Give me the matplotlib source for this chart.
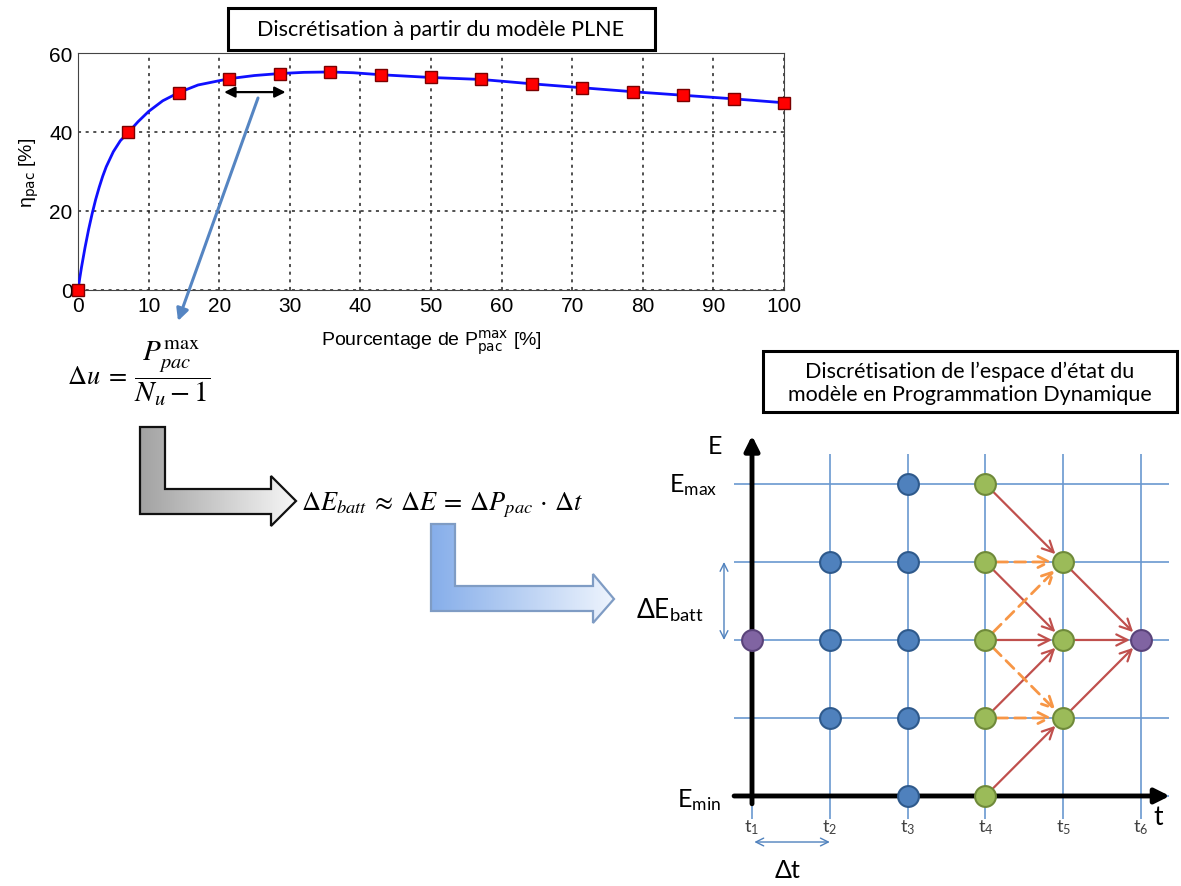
import numpy as np
import matplotlib
matplotlib.use('Agg')
import matplotlib.pyplot as plt
from matplotlib.patches import Polygon, Rectangle
from matplotlib.colors import LinearSegmentedColormap

plt.rcParams['font.family'] = ['Liberation Sans', 'DejaVu Sans']
plt.rcParams['mathtext.fontset'] = 'custom'
plt.rcParams['mathtext.rm'] = 'Lato'
plt.rcParams['mathtext.it'] = 'Lato:italic'
plt.rcParams['mathtext.bf'] = 'Lato:bold'

W, H = 1181, 887

# rendement de la pile : points de discretisation (carres rouges)
pct = [0, 7.14, 14.29, 21.43, 28.57, 35.71, 42.86, 50, 57.14, 64.29, 71.43, 78.57, 85.71, 92.86, 100]
eta = [0, 39.9, 50.0, 53.5, 54.8, 55.2, 54.5, 53.8, 53.3, 52.2, 51.2, 50.2, 49.3, 48.4, 47.4]
# courbe continue
pct_courbe = [0, 0.25, 0.5, 1, 1.5, 2, 2.5, 3, 3.5, 4, 5, 6, 7.14, 8.5, 10, 12, 14.29, 17, 21.43, 25,
              28.57, 32, 35.71, 39, 42.86, 50, 57.14, 64.29, 71.43, 78.57, 85.71, 92.86, 100]
eta_courbe = [0, 3.0, 5.8, 10.8, 15.3, 19.3, 22.9, 26.0, 28.8, 31.2, 35.0, 37.8, 39.9, 42.6, 45.2,
              47.9, 50.0, 51.9, 53.5, 54.3, 54.8, 55.1, 55.2, 55.0, 54.5, 53.8, 53.3, 52.2, 51.2,
              50.2, 49.3, 48.4, 47.4]
x_ticks = [0, 10, 20, 30, 40, 50, 60, 70, 80, 90, 100]
y_ticks = [0, 20, 40, 60]

# grille de la programmation dynamique
t_pas = [1, 2, 3, 4, 5, 6]
t_noms = ['t$_1$', 't$_2$', 't$_3$', 't$_4$', 't$_5$', 't$_6$']
niveaux_E = [0, 1, 2, 3, 4]
noeuds = {1: [2], 2: [1, 2, 3], 3: [0, 1, 2, 3, 4], 4: [0, 1, 2, 3, 4], 5: [1, 2, 3], 6: [2]}
type_noeud = {1: 'violet', 2: 'bleu', 3: 'bleu', 4: 'vert', 5: 'vert', 6: 'violet'}
fleches_rouges = [((4, 4), (5, 3)), ((4, 3), (5, 2)), ((4, 2), (5, 2)), ((4, 1), (5, 2)),
                  ((4, 0), (5, 1)), ((5, 3), (6, 2)), ((5, 2), (6, 2)), ((5, 1), (6, 2))]
fleches_orange = [((4, 3), (5, 3)), ((4, 2), (5, 3)), ((4, 2), (5, 1)), ((4, 1), (5, 1))]

couleurs = {'bleu': ('#4f81bd', '#2f5a8c'),
            'vert': ('#9bbb59', '#6f8a3a'),
            'violet': ('#8064a2', '#5a437a')}

fig = plt.figure(figsize=(W / 100, H / 100), dpi=100)

# ---- graphe du rendement ----
ax1 = fig.add_axes([78 / W, 1 - 291 / H, (784 - 78) / W, (291 - 54) / H])
ax1.plot(pct_courbe, eta_courbe, color='#1010ff', lw=2, zorder=3)
ax1.plot(pct, eta, 's', ms=9, mfc='#ff0000', mec='#7a0000', mew=1, zorder=4, clip_on=False)
ax1.set_xlim(0, 100)
ax1.set_ylim(0, 60)
ax1.set_xticks(x_ticks)
ax1.set_yticks(y_ticks)
ax1.tick_params(direction='in', length=0, labelsize=15, pad=4)
ax1.grid(True, color='#222222', linestyle=(0, (2, 3)), lw=1.1)
for s in ax1.spines.values():
    s.set_color('#444444')
ax1.set_ylabel('η$_{\\rm pac}$ [%]', fontsize=14, math_fontfamily='dejavusans', labelpad=6)
ax1.set_xlabel(r'Pourcentage de P$^{\rm max}_{\rm pac}$ [%]', fontsize=14,
               math_fontfamily='dejavusans', labelpad=9)
ax1.annotate('', xy=(29.4, 50.1), xytext=(20.7, 50.1),
             arrowprops=dict(arrowstyle='<|-|>', color='black', lw=1.6, mutation_scale=16,
                             shrinkA=0, shrinkB=0))

# ---- grille etats / temps ----
ax2 = fig.add_axes([640 / W, 0, (W - 640) / W, 467 / H])
ax2.set_xlim(-0.4396, 6.514)
ax2.set_ylim(-1.154, 4.833)
ax2.axis('off')
ax2.hlines(niveaux_E, 0.77, 6.36, color='#6a98cf', lw=1.2, zorder=1)
ax2.vlines(t_pas, -0.29, 4.38, color='#6a98cf', lw=1.2, zorder=1)
ax2.annotate('', xy=(6.37, 0), xytext=(0.77, 0),
             arrowprops=dict(arrowstyle='-|>', color='black', lw=3.5, mutation_scale=22,
                             shrinkA=0, shrinkB=0), zorder=2)
ax2.annotate('', xy=(1, 4.62), xytext=(1, -0.1),
             arrowprops=dict(arrowstyle='-|>', color='black', lw=3.5, mutation_scale=22,
                             shrinkA=0, shrinkB=0), zorder=2)

for (t0, e0), (t1, e1) in fleches_rouges:
    ax2.annotate('', xy=(t1, e1), xytext=(t0, e0),
                 arrowprops=dict(arrowstyle='->', color='#c0504d', lw=1.6, mutation_scale=20,
                                 shrinkA=8, shrinkB=8), zorder=3)
for (t0, e0), (t1, e1) in fleches_orange:
    ax2.annotate('', xy=(t1, e1), xytext=(t0, e0),
                 arrowprops=dict(arrowstyle='->', color='#f79646', lw=2, ls=(0, (4, 2.5)),
                                 mutation_scale=20, shrinkA=8, shrinkB=8), zorder=3)

for t in t_pas:
    fc, ec = couleurs[type_noeud[t]]
    ax2.plot([t] * len(noeuds[t]), noeuds[t], 'o', ms=15, mfc=fc, mec=ec, mew=1.5, zorder=5)

for t, nom in zip(t_pas, t_noms):
    ax2.text(t, -0.39, nom, fontsize=13, color='#404040', ha='center', va='center', family='Lato')

ax2.text(0.52, 4.49, 'E', fontsize=18, family='Lato', ha='center', va='center')
ax2.text(0.24, 4.0, r'E$_{\rm max}$', fontsize=18, family='Lato', ha='center', va='center')
ax2.text(0.32, -0.04, r'E$_{\rm min}$', fontsize=18, family='Lato', ha='center', va='center')
ax2.text(-0.05, 2.4, r'$\Delta$E$_{\rm batt}$', fontsize=19, family='Lato', ha='center', va='center')
ax2.text(6.22, -0.26, 't', fontsize=19, family='Lato', ha='center', va='center')
ax2.text(1.46, -0.94, r'$\Delta$t', fontsize=18, family='Lato', ha='center', va='center')
ax2.annotate('', xy=(0.64, 3), xytext=(0.64, 2),
             arrowprops=dict(arrowstyle='<->', color='#4f81bd', lw=1, mutation_scale=14,
                             shrinkA=0, shrinkB=0))
ax2.annotate('', xy=(2.0, -0.59), xytext=(1.03, -0.59),
             arrowprops=dict(arrowstyle='<->', color='#4f81bd', lw=1, mutation_scale=14,
                             shrinkA=0, shrinkB=0))

# ---- calque d'annotations (coordonnees en pixels) ----
ax0 = fig.add_axes([0, 0, 1, 1])
ax0.axis('off')


def fleche_L(ax, pts, c1, c2, bord):
    poly = Polygon(pts, closed=True, fc='none', ec=bord, lw=1.6, zorder=3)
    ax.add_patch(poly)
    xs = [p[0] for p in pts]
    ys = [p[1] for p in pts]
    grad = np.linspace(0, 1, 256).reshape(1, -1)
    cmap = LinearSegmentedColormap.from_list('deg', [c1, c2])
    im = ax.imshow(grad, cmap=cmap, extent=(min(xs), max(xs), max(ys), min(ys)),
                   aspect='auto', zorder=2)
    im.set_clip_path(poly)


fleche_L(ax0, [(140, 428), (165, 428), (165, 490), (271, 490), (271, 477), (296, 502),
               (271, 527), (271, 515), (140, 515)], '#a2a2a2', '#f6f6f6', '#111111')
fleche_L(ax0, [(431, 525), (455, 525), (455, 587), (593, 587), (593, 575), (614, 600),
               (593, 624), (593, 612), (431, 612)], '#86aeea', '#eef4fd', '#7f9cc4')
ax0.set_xlim(0, W)
ax0.set_ylim(H, 0)

ax0.add_patch(Rectangle((228, 9), 427, 42, fc='white', ec='black', lw=2.2, zorder=4))
ax0.text(441, 30, 'Discrétisation à partir du modèle PLNE', family='Lato', fontsize=15.5,
         ha='center', va='center', zorder=5)
ax0.add_patch(Rectangle((763, 352), 414, 61, fc='white', ec='black', lw=2.2, zorder=4))
ax0.text(970, 383, 'Discrétisation de l’espace d’état du\nmodèle en Programmation Dynamique',
         family='Lato', fontsize=15.5, ha='center', va='center', linespacing=1.2, zorder=5)

ax0.annotate('', xy=(178, 322), xytext=(258, 99),
             arrowprops=dict(arrowstyle='-|>', color='#5585c2', lw=2.2, mutation_scale=18,
                             shrinkA=0, shrinkB=0))

ax0.text(127, 377, r'$\Delta u \;=$', math_fontfamily='stix',
         fontsize=19, ha='right', va='center')
ax0.text(172, 373, r'$\dfrac{P_{pac}^{\mathrm{max}}}{N_u - 1}$', math_fontfamily='stix',
         fontsize=21, ha='center', va='center')
ax0.text(442, 505, r'$\Delta E_{batt} \:\approx\: \Delta E \:=\: \Delta P_{pac} \,\cdot\, \Delta t$',
         math_fontfamily='stix', fontsize=19, ha='center', va='center')

fig.savefig('out.png', dpi=100)
